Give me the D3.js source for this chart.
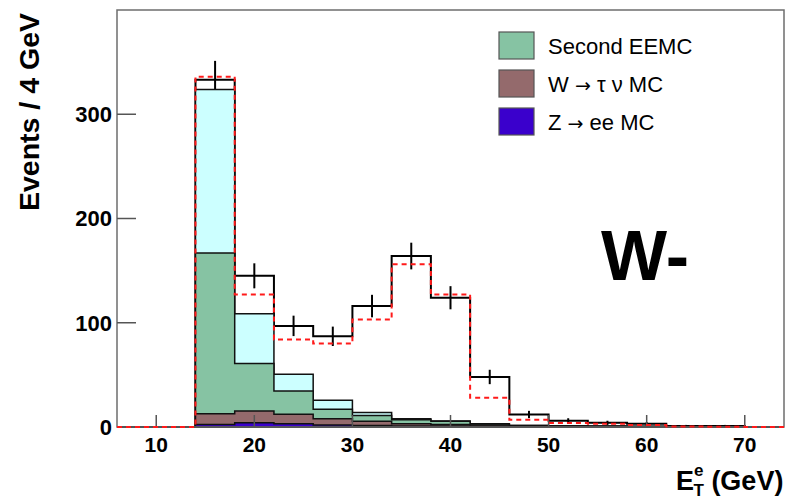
<!DOCTYPE html>
<html>
<head>
<meta charset="utf-8">
<script src="https://cdn.jsdelivr.net/npm/d3@7"></script>
<style>
body{margin:0;background:#fff;}
text{font-family:"Liberation Sans",Arial,Helvetica,sans-serif;}
</style>
</head>
<body>
<svg id="chart" width="786" height="503"></svg>
<script>
// bins of 4 GeV, low edges
var binLow = [6,10,14,18,22,26,30,34,38,42,46,50,54,58,62,66,70];
var binWidth = 4;

// stacked backgrounds (bottom to top)
var zeeMC      = [0,0,2.3,4.0,3.0,2.0,1.5,1.0,1.0,0.8,0.8,0.6,0.5,0.4,0.3,0.2,0];
var wtauMC     = [0,0,10.5,11.3,9.2,6.0,4.0,2.0,1.5,1.0,0.5,0.3,0.2,0.1,0,0,0];
var secondEEMC = [0,0,154,45.7,22.3,9.0,5.5,4.0,3.0,1.0,0.2,0,0,0,0,0,0];
var qcdBkg     = [0,0,157,47.7,16,8.6,3.0,1.0,0.3,0.2,0,0,0,0,0,0,0];

// total MC (red dashed) and data
var totalMC    = [0,0,336,127,84,80,103,156,127,28,7,3.8,3,2,0.5,0.3,0];
var dataCounts = [0,0,333,145,97,87,116,164,124,48,12,6,4,3,1,1,0];
var dataErr    = [0,0,18.2,12,9.8,9.3,10.8,12.8,11.1,6.9,3.5,2.4,2,1.7,1,1,0];

var xTicks = [10,20,30,40,50,60,70];
var yTicks = [0,100,200,300];

var legendLabels = [["Second EEMC"],["W ","\u2192"," \u03c4 \u03bd MC"],["Z ","\u2192"," ee MC"]];
var legendColors = ["#86c3a3","#946a6c","#3a00cc"];

var svg = d3.select("#chart");

var x = d3.scaleLinear().domain([6,74]).range([117,784]);
var y = d3.scaleLinear().domain([0,400]).range([427,10]);

function stepPoints(vals){
  var pts=[];
  vals.forEach(function(v,i){
    pts.push([binLow[i],v]);
    pts.push([binLow[i]+binWidth,v]);
  });
  return pts;
}

var line = d3.line()
  .x(function(d){return x(d[0]);})
  .y(function(d){return y(d[1]);});

var area = d3.area()
  .x(function(d){return x(d[0]);})
  .y0(y(0))
  .y1(function(d){return y(d[1]);});

// data drawn first, the stack sits over it (as in the original)
svg.append("path")
  .attr("d", line(stepPoints(dataCounts)))
  .attr("fill","none")
  .attr("stroke","#000")
  .attr("stroke-width",2);

svg.selectAll(".errbar")
  .data(binLow.filter(function(d,i){return dataCounts[i]>0;}))
  .enter()
  .append("line")
  .attr("class","errbar")
  .attr("x1",function(d){return x(d+binWidth/2);})
  .attr("x2",function(d){return x(d+binWidth/2);})
  .attr("y1",function(d){var i=binLow.indexOf(d);return y(dataCounts[i]-dataErr[i]);})
  .attr("y2",function(d){var i=binLow.indexOf(d);return y(dataCounts[i]+dataErr[i]);})
  .attr("stroke","#000")
  .attr("stroke-width",2);

// stack
var rows = binLow.map(function(d,i){
  return {zee:zeeMC[i], wtau:wtauMC[i], eemc:secondEEMC[i], qcd:qcdBkg[i]};
});
var stack = d3.stack().keys(["zee","wtau","eemc","qcd"])(rows);
var stackColors = {zee:"#3a00cc", wtau:"#946a6c", eemc:"#86c3a3", qcd:"#ccffff"};

// draw the cumulative layers largest first
stack.slice().reverse().forEach(function(layer){
  var tops = layer.map(function(d){return d[1];});
  svg.append("path")
    .attr("d", area(stepPoints(tops)))
    .attr("fill", stackColors[layer.key])
    .attr("stroke","#111")
    .attr("stroke-width",1.5);
});

// frame
svg.append("rect")
  .attr("x",x(6)).attr("y",y(400))
  .attr("width",x(74)-x(6)).attr("height",y(0)-y(400))
  .attr("fill","none")
  .attr("stroke","#6d6d6d")
  .attr("stroke-width",1.5);

// ticks
svg.selectAll(".xtick")
  .data(xTicks)
  .enter()
  .append("line")
  .attr("class","xtick")
  .attr("x1",function(d){return x(d);})
  .attr("x2",function(d){return x(d);})
  .attr("y1",y(0))
  .attr("y2",y(0)-12)
  .attr("stroke","#555")
  .attr("stroke-width",1.5);

svg.selectAll(".ytick")
  .data(yTicks)
  .enter()
  .append("line")
  .attr("class","ytick")
  .attr("x1",x(6))
  .attr("x2",x(6)+19)
  .attr("y1",function(d){return y(d);})
  .attr("y2",function(d){return y(d);})
  .attr("stroke","#555")
  .attr("stroke-width",1.5);

// total MC, red dashed
svg.append("path")
  .attr("d", line(stepPoints(totalMC)))
  .attr("fill","none")
  .attr("stroke","#ff1a1a")
  .attr("stroke-width",2)
  .attr("stroke-dasharray","5,4");

// tick labels
svg.selectAll(".xlab")
  .data(xTicks)
  .enter()
  .append("text")
  .attr("class","xlab")
  .attr("x",function(d){return x(d);})
  .attr("y",452)
  .attr("text-anchor","middle")
  .style("font-size","21px")
  .style("font-weight","bold")
  .text(String);

svg.selectAll(".ylab")
  .data(yTicks)
  .enter()
  .append("text")
  .attr("class","ylab")
  .attr("x",112)
  .attr("y",function(d){return y(d);})
  .attr("dy","0.36em")
  .attr("text-anchor","end")
  .style("font-size","22px")
  .style("font-weight","bold")
  .text(String);

// axis titles
svg.append("text")
  .attr("transform","translate(39,13) rotate(-90)")
  .attr("text-anchor","end")
  .style("font-size","28.5px")
  .style("font-weight","bold")
  .text("Events / 4 GeV");

var xt = svg.append("text")
  .attr("x",676)
  .attr("y",490)
  .style("font-size","27px")
  .style("font-weight","bold");
xt.append("tspan").text("E");
xt.append("tspan").attr("dy",-14).style("font-size","17px").text("e");
xt.append("tspan").attr("dx",-10).attr("dy",20).style("font-size","17px").text("T");
xt.append("tspan").attr("dy",-6).text(" (GeV)");

// big W- label
svg.append("text")
  .attr("x",601)
  .attr("y",280)
  .style("font-size","70px")
  .style("font-weight","bold")
  .text("W-");

// legend
var leg = svg.selectAll(".leg")
  .data(legendLabels)
  .enter()
  .append("g")
  .attr("class","leg")
  .attr("transform",function(d,i){return "translate(499,"+(32+i*38)+")";});

leg.append("rect")
  .attr("width",35)
  .attr("height",27)
  .attr("fill",function(d,i){return legendColors[i];})
  .attr("stroke","#555")
  .attr("stroke-width",1.2);

leg.append("text")
  .attr("x",49)
  .attr("y",22)
  .style("font-size","22px")
  .selectAll("tspan")
  .data(function(d){return d;})
  .enter()
  .append("tspan")
  .style("font-family",function(d){return d=="\u2192" ? "'DejaVu Sans'" : null;})
  .style("font-size",function(d){return d=="\u2192" ? "19px" : null;})
  .text(String);
</script>
</body>
</html>
